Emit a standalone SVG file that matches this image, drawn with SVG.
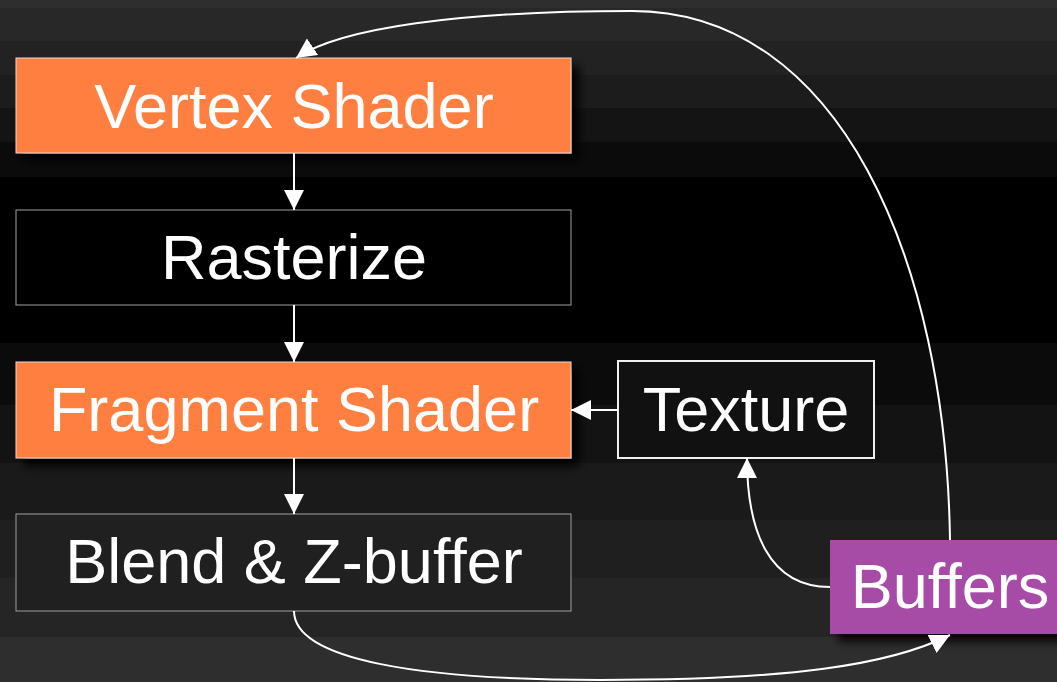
<svg xmlns="http://www.w3.org/2000/svg" width="1057" height="682" viewBox="0 0 1057 682">
  <defs>
    <style>
      .lbl { font-family: "Liberation Sans", Arial, sans-serif; font-size: 63px; fill: #ffffff; text-anchor: middle; }
      .edge { fill: none; stroke: #ffffff; stroke-width: 2; }
      .orange { fill: #ff7f41; stroke: #e8d8d0; stroke-width: 1; }
      .purple { fill: #a64ca6; }
      .plain { stroke: #a0a0a0; stroke-width: 1; }
    </style>
    <marker id="arrow" viewBox="0 0 20 20" refX="20" refY="10" markerWidth="20" markerHeight="20" markerUnits="userSpaceOnUse" orient="auto">
      <path d="M0,0 L20,10 L0,20 Z" fill="#ffffff"/>
    </marker>
    <filter id="shadow" x="-10%" y="-20%" width="130%" height="160%">
      <feDropShadow dx="8" dy="8" stdDeviation="4" flood-color="#000000" flood-opacity="0.85"/>
    </filter>
  </defs>

  <!-- banded background -->
  <g id="background">
    <rect x="0" y="0" width="1057" height="682" fill="#000000"/>
    <rect x="0" y="0" width="1057" height="8" fill="#2e2e2e"/>
    <rect x="0" y="8" width="1057" height="33" fill="#282828"/>
    <rect x="0" y="41" width="1057" height="34" fill="#222222"/>
    <rect x="0" y="75" width="1057" height="33" fill="#1c1c1c"/>
    <rect x="0" y="108" width="1057" height="34" fill="#141414"/>
    <rect x="0" y="142" width="1057" height="35" fill="#0b0b0b"/>
    <rect x="0" y="343" width="1057" height="62" fill="#0b0b0b"/>
    <rect x="0" y="405" width="1057" height="58" fill="#131313"/>
    <rect x="0" y="463" width="1057" height="57" fill="#1a1a1a"/>
    <rect x="0" y="520" width="1057" height="58" fill="#1f1f1f"/>
    <rect x="0" y="578" width="1057" height="59" fill="#252525"/>
    <rect x="0" y="637" width="1057" height="45" fill="#2e2e2e"/>
  </g>

  <g id="vertex-shader">
    <rect class="orange" x="16" y="58" width="555" height="95" filter="url(#shadow)"/>
    <text class="lbl" x="294" y="128">Vertex Shader</text>
  </g>

  <g id="rasterize">
    <rect class="plain" x="16" y="210" width="555" height="95" fill="#000000"/>
    <text class="lbl" x="294" y="279">Rasterize</text>
  </g>

  <g id="fragment-shader">
    <rect class="orange" x="16" y="362" width="555" height="96" filter="url(#shadow)"/>
    <text class="lbl" x="294" y="431">Fragment Shader</text>
  </g>

  <g id="blend">
    <rect class="plain" x="16" y="514" width="555" height="97" fill="#202020"/>
    <text class="lbl" x="294" y="583">Blend &amp; Z-buffer</text>
  </g>

  <g id="texture">
    <rect x="618" y="361" width="256" height="97" fill="#111111" stroke="#f0f0f0" stroke-width="2"/>
    <text class="lbl" x="746" y="431">Texture</text>
  </g>

  <g id="buffers">
    <rect class="purple" x="830" y="540" width="240" height="94" filter="url(#shadow)"/>
    <text class="lbl" x="950" y="608">Buffers</text>
  </g>

  <g id="connectors">
    <path class="edge" d="M294,153 L294,210" marker-end="url(#arrow)"/>
    <path class="edge" d="M294,305 L294,362" marker-end="url(#arrow)"/>
    <path class="edge" d="M294,458 L294,514" marker-end="url(#arrow)"/>
    <path class="edge" d="M618,410 L571,410" marker-end="url(#arrow)"/>
    <path class="edge" d="M830,587 C768,587 747,530 747,458" marker-end="url(#arrow)"/>
    <path class="edge" d="M294,611 C294,660 420,680 600,680 C790,680 890,665 950,635" marker-end="url(#arrow)"/>
    <path class="edge" d="M950,540 C946,260 840,11 632,11 C460,11 340,28 296,58" marker-end="url(#arrow)"/>
  </g>
</svg>
